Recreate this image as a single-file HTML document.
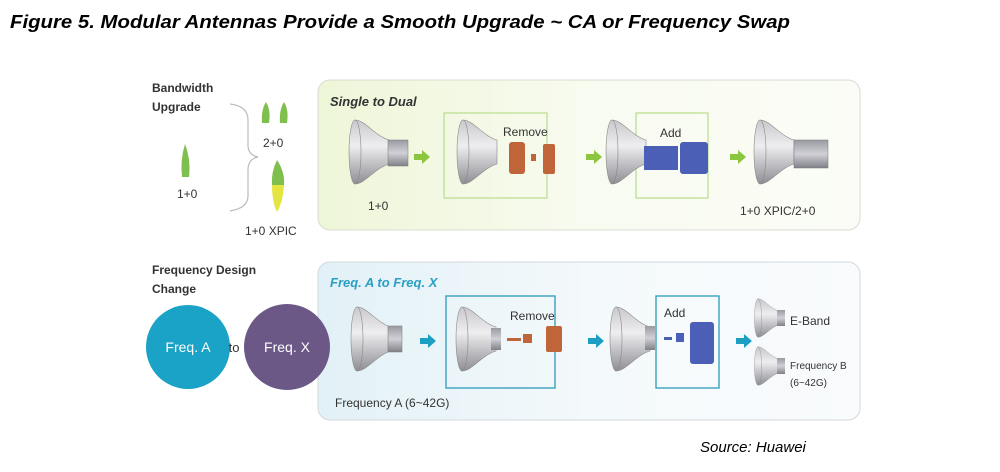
<!DOCTYPE html>
<html><head><meta charset="utf-8"><style>
html,body{margin:0;padding:0;background:#fff;width:1000px;height:472px;overflow:hidden}
svg{display:block}
text{font-family:"Liberation Sans",sans-serif}
</style></head><body>
<svg width="1000" height="472" viewBox="0 0 1000 472">
<defs>
<linearGradient id="gp" x1="0" x2="1" y1="0" y2="0"><stop offset="0" stop-color="#eef6d8"/><stop offset="0.5" stop-color="#f8fbf0"/><stop offset="1" stop-color="#fbfcf7"/></linearGradient>
<linearGradient id="bp" x1="0" x2="1" y1="0" y2="0"><stop offset="0" stop-color="#e2f1f7"/><stop offset="0.5" stop-color="#f4f9fb"/><stop offset="1" stop-color="#f9fbfc"/></linearGradient>
<linearGradient id="dg" x1="0" x2="0" y1="0" y2="1"><stop offset="0" stop-color="#c8c8cc"/><stop offset="0.4" stop-color="#eeeef0"/><stop offset="1" stop-color="#8e8e94"/></linearGradient>
<linearGradient id="fg" x1="0" x2="0" y1="0" y2="1"><stop offset="0" stop-color="#9a9aa2"/><stop offset="0.5" stop-color="#d0d0d6"/><stop offset="1" stop-color="#808088"/></linearGradient>
<g id="dish">
<path d="M0,-32 C10,-32 20,-16 34,-12 L34,12 C20,16 10,32 0,32 Z" fill="url(#dg)" stroke="#888" stroke-width="0.6"/>
<ellipse cx="0" cy="0" rx="6" ry="32" fill="url(#dg)" stroke="#888" stroke-width="0.6"/>
</g>
<g id="arrG"><path d="M0,-3 L8,-3 L8,-7 L16,0 L8,7 L8,3 L0,3Z" fill="#8cc63f"/></g>
<g id="arrB"><path d="M0,-3 L8,-3 L8,-7 L16,0 L8,7 L8,3 L0,3Z" fill="#1d9fc4"/></g>
</defs>

<text x="10" y="28" font-size="18" font-weight="bold" font-style="italic" textLength="780" lengthAdjust="spacingAndGlyphs">Figure 5.  Modular Antennas Provide a Smooth Upgrade ~ CA or Frequency Swap</text>

<!-- top panel -->
<rect x="318" y="80" width="542" height="150" rx="12" fill="url(#gp)" stroke="#d8dccf" stroke-width="1"/>
<text x="330" y="106" font-size="13" font-weight="bold" font-style="italic" fill="#333">Single to Dual</text>
<rect x="444" y="113" width="103" height="85" fill="none" stroke="#b9dc8c" stroke-width="1.2"/>
<rect x="636" y="113" width="72" height="85" fill="none" stroke="#b9dc8c" stroke-width="1.2"/>
<use href="#dish" x="355" y="152"/>
<rect x="388" y="140" width="20" height="26" fill="url(#fg)" stroke="#777" stroke-width="0.5"/>
<text x="368" y="210" font-size="12" fill="#333">1+0</text>
<use href="#arrG" x="414" y="157"/>
<use href="#dish" x="463" y="152"/>
<text x="503" y="136" font-size="12" fill="#333">Remove</text>
<rect x="509" y="142" width="16" height="32" rx="3" fill="#c0643a"/>
<rect x="531" y="154" width="5" height="7" fill="#c0643a"/>
<rect x="543" y="144" width="12" height="30" rx="2" fill="#c0643a"/>
<use href="#arrG" x="586" y="157"/>
<use href="#dish" x="612" y="152"/>
<text x="660" y="137" font-size="12" fill="#333">Add</text>
<rect x="644" y="146" width="34" height="24" fill="#4a5fb5"/>
<rect x="680" y="142" width="28" height="32" rx="3" fill="#4a5fb5"/>
<use href="#arrG" x="730" y="157"/>
<use href="#dish" x="760" y="152"/>
<rect x="794" y="140" width="34" height="28" fill="url(#fg)" stroke="#777" stroke-width="0.5"/>
<text x="740" y="215" font-size="12" fill="#333">1+0 XPIC/2+0</text>

<!-- left top -->
<text x="152" y="92" font-size="12" font-weight="bold" fill="#333">Bandwidth</text>
<text x="152" y="111" font-size="12" font-weight="bold" fill="#333">Upgrade</text>
<path d="M185,144 Q180,160 182,177 L189,177 Q191,160 185,144Z" fill="#7fbf4d"/>
<text x="177" y="198" font-size="12" fill="#333">1+0</text>
<path d="M230,104 Q248,106 248,120 L248,145 Q248,155 258,157 Q248,159 248,170 L248,196 Q248,208 230,211" fill="none" stroke="#bbb" stroke-width="1.2"/>
<path d="M266,102 Q261,110 262,123 L269,123 Q271,110 266,102Z" fill="#7fbf4d"/>
<path d="M284,102 Q279,110 280,123 L287,123 Q289,110 284,102Z" fill="#7fbf4d"/>
<text x="263" y="147" font-size="12" fill="#333">2+0</text>
<path d="M277,160 Q271,172 272,185 L284,185 Q285,172 277,160Z" fill="#7fbf4d"/>
<path d="M272,185 Q272,202 277,212 Q283,202 284,185Z" fill="#e5e542"/>
<text x="245" y="235" font-size="12" fill="#333">1+0 XPIC</text>

<!-- bottom panel -->
<rect x="318" y="262" width="542" height="158" rx="12" fill="url(#bp)" stroke="#d2d9dc" stroke-width="1"/>
<text x="330" y="287" font-size="13" font-weight="bold" font-style="italic" fill="#2a9fc4">Freq. A to Freq. X</text>
<rect x="446" y="296" width="109" height="92" fill="none" stroke="#3aa1bf" stroke-width="1.4"/>
<rect x="656" y="296" width="63" height="92" fill="none" stroke="#3aa1bf" stroke-width="1.4"/>
<use href="#dish" x="357" y="339"/>
<rect x="388" y="326" width="14" height="26" fill="url(#fg)" stroke="#777" stroke-width="0.5"/>
<use href="#arrB" x="420" y="341"/>
<use href="#dish" x="462" y="339"/>
<rect x="491" y="328" width="10" height="22" fill="url(#fg)"/>
<text x="510" y="320" font-size="12" fill="#333">Remove</text>
<rect x="507" y="338" width="14" height="3" fill="#c0643a"/>
<rect x="523" y="334" width="9" height="9" fill="#c0643a"/>
<rect x="546" y="326" width="16" height="26" rx="2" fill="#c0643a"/>
<use href="#arrB" x="588" y="341"/>
<use href="#dish" x="616" y="339"/>
<rect x="645" y="326" width="10" height="24" fill="url(#fg)"/>
<text x="664" y="317" font-size="12" fill="#333">Add</text>
<rect x="664" y="337" width="8" height="3" fill="#4a5fb5"/>
<rect x="676" y="333" width="8" height="9" fill="#4a5fb5"/>
<rect x="690" y="322" width="24" height="42" rx="3" fill="#4a5fb5"/>
<use href="#arrB" x="736" y="341"/>
<g transform="translate(758,318) scale(0.6)"><use href="#dish"/></g>
<rect x="777" y="310" width="8" height="16" fill="url(#fg)"/>
<text x="790" y="325" font-size="12" fill="#333">E-Band</text>
<g transform="translate(758,366) scale(0.6)"><use href="#dish"/></g>
<rect x="777" y="358" width="8" height="16" fill="url(#fg)"/>
<text x="790" y="369" font-size="10" fill="#333">Frequency B</text>
<text x="790" y="386" font-size="10" fill="#333">(6~42G)</text>
<text x="335" y="407" font-size="12" fill="#333">Frequency A (6~42G)</text>

<!-- left bottom -->
<text x="152" y="274" font-size="12" font-weight="bold" fill="#333">Frequency Design</text>
<text x="152" y="293" font-size="12" font-weight="bold" fill="#333">Change</text>
<circle cx="188" cy="347" r="42" fill="#1aa3c6"/>
<text x="188" y="352" font-size="14" fill="#fff" text-anchor="middle">Freq. A</text>
<text x="234" y="352" font-size="13" fill="#333" text-anchor="middle">to</text>
<circle cx="287" cy="347" r="43" fill="#6b5887"/>
<text x="287" y="352" font-size="14" fill="#fff" text-anchor="middle">Freq. X</text>

<text x="700" y="452" font-size="15" font-style="italic" fill="#000">Source: Huawei</text>
</svg>
</body></html>
